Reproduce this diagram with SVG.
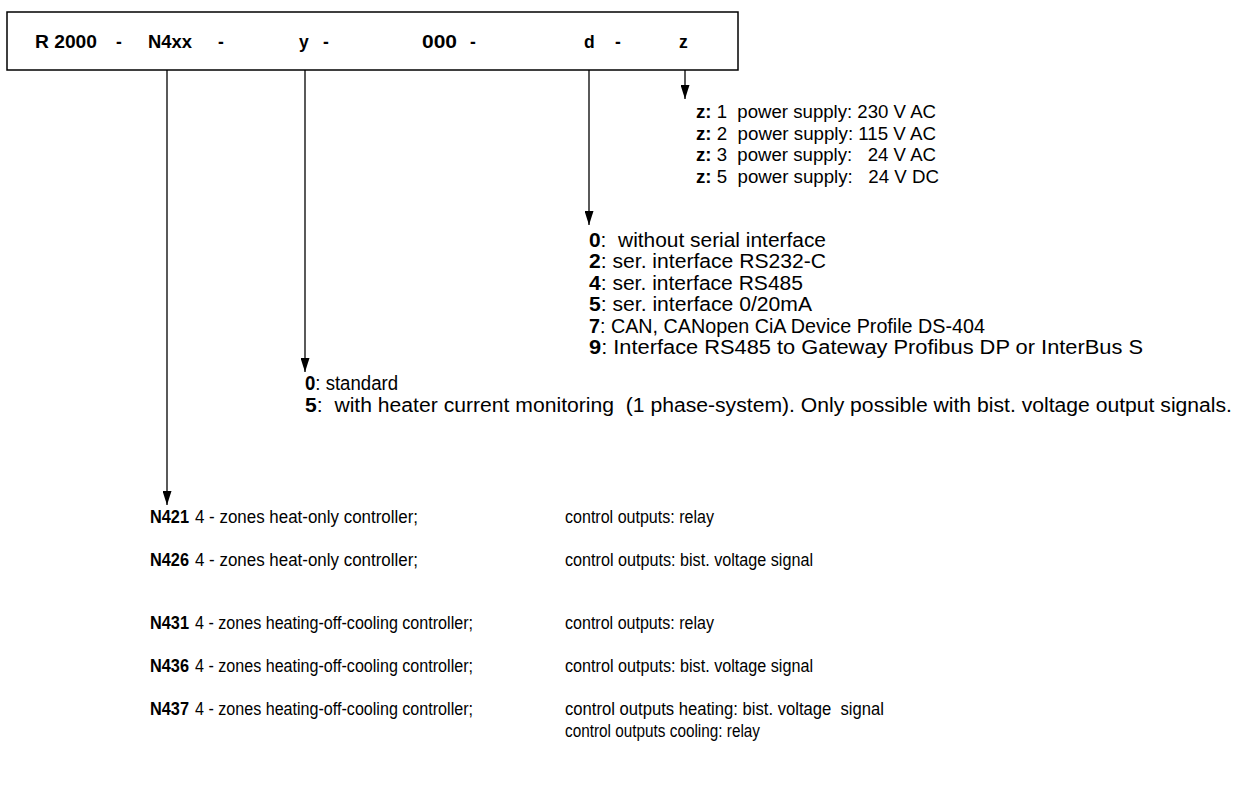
<svg xmlns="http://www.w3.org/2000/svg" width="1244" height="790" viewBox="0 0 1244 790" xml:space="preserve">
<defs>
<style>
text{font-family:"Liberation Sans",Arial,sans-serif;font-size:17.5px;fill:#000;white-space:pre}
.b{font-weight:bold}
.hd{font-size:17.5px;font-weight:bold}
.zt{font-size:18px}
.up{font-size:19.5px}
.ln{stroke:#000;stroke-width:1.3;fill:none}
</style>
<marker id="ah" viewBox="0 0 14 9" refX="14" refY="4.5" markerWidth="14" markerHeight="9" markerUnits="userSpaceOnUse" orient="auto">
<path d="M0,0 L14,4.5 L0,9 Z" fill="#000"/>
</marker>
</defs>
<rect width="1244" height="790" fill="#fff"/>
<g id="code-box">
<rect x="7" y="12" width="731" height="58" fill="#fff" stroke="#000" stroke-width="1.5"/>
<text class="hd" x="35" y="48" textLength="62" lengthAdjust="spacingAndGlyphs">R 2000</text>
<text class="hd" x="116" y="48">-</text>
<text class="hd" x="148" y="48" textLength="44" lengthAdjust="spacingAndGlyphs">N4xx</text>
<text class="hd" x="218" y="48">-</text>
<text class="hd" x="299" y="48">y</text>
<text class="hd" x="323" y="48">-</text>
<text class="hd" x="422" y="48" textLength="35" lengthAdjust="spacingAndGlyphs">000</text>
<text class="hd" x="470" y="48">-</text>
<text class="hd" x="584" y="48">d</text>
<text class="hd" x="615" y="48">-</text>
<text class="hd" x="679" y="48">z</text>
</g>
<g id="connectors">
<line class="ln" x1="167" y1="70" x2="167" y2="505" marker-end="url(#ah)"/>
<line class="ln" x1="305" y1="70" x2="305" y2="372" marker-end="url(#ah)"/>
<line class="ln" x1="589" y1="70" x2="589" y2="225" marker-end="url(#ah)"/>
<line class="ln" x1="685" y1="70" x2="685" y2="99" marker-end="url(#ah)"/>
</g>
<g id="z-options">
<text class="zt" x="696" y="118" textLength="240" lengthAdjust="spacingAndGlyphs"><tspan class="b">z:</tspan> 1  power supply: 230 V AC</text>
<text class="zt" x="696" y="140" textLength="240" lengthAdjust="spacingAndGlyphs"><tspan class="b">z:</tspan> 2  power supply: 115 V AC</text>
<text class="zt" x="696" y="161" textLength="240" lengthAdjust="spacingAndGlyphs"><tspan class="b">z:</tspan> 3  power supply:   24 V AC</text>
<text class="zt" x="696" y="183" textLength="243" lengthAdjust="spacingAndGlyphs"><tspan class="b">z:</tspan> 5  power supply:   24 V DC</text>
</g>
<g id="d-options">
<text class="up" x="589" y="247" textLength="237" lengthAdjust="spacingAndGlyphs"><tspan class="b">0</tspan>:  without serial interface</text>
<text class="up" x="589" y="268" textLength="237" lengthAdjust="spacingAndGlyphs"><tspan class="b">2</tspan>: ser. interface RS232-C</text>
<text class="up" x="589" y="290" textLength="214" lengthAdjust="spacingAndGlyphs"><tspan class="b">4</tspan>: ser. interface RS485</text>
<text class="up" x="589" y="311" textLength="223" lengthAdjust="spacingAndGlyphs"><tspan class="b">5</tspan>: ser. interface 0/20mA</text>
<text class="up" x="589" y="333" textLength="396" lengthAdjust="spacingAndGlyphs"><tspan class="b">7</tspan>: CAN, CANopen CiA Device Profile DS-404</text>
<text class="up" x="589" y="354" textLength="554" lengthAdjust="spacingAndGlyphs"><tspan class="b">9</tspan>: Interface RS485 to Gateway Profibus DP or InterBus S</text>
</g>
<g id="y-options">
<text class="up" x="305" y="390" textLength="93" lengthAdjust="spacingAndGlyphs"><tspan class="b">0</tspan>: standard</text>
<text class="up" x="305" y="412" textLength="927" lengthAdjust="spacingAndGlyphs"><tspan class="b">5</tspan>:  with heater current monitoring  (1 phase-system). Only possible with bist. voltage output signals.</text>
</g>
<g id="n-options">
<text class="b" x="150" y="523" textLength="39" lengthAdjust="spacingAndGlyphs">N421</text>
<text x="195" y="523" textLength="223" lengthAdjust="spacingAndGlyphs">4 - zones heat-only controller;</text>
<text x="565" y="523" textLength="149" lengthAdjust="spacingAndGlyphs">control outputs: relay</text>
<text class="b" x="150" y="566" textLength="39" lengthAdjust="spacingAndGlyphs">N426</text>
<text x="195" y="566" textLength="223" lengthAdjust="spacingAndGlyphs">4 - zones heat-only controller;</text>
<text x="565" y="566" textLength="248" lengthAdjust="spacingAndGlyphs">control outputs: bist. voltage signal</text>
<text class="b" x="150" y="629" textLength="39" lengthAdjust="spacingAndGlyphs">N431</text>
<text x="195" y="629" textLength="278" lengthAdjust="spacingAndGlyphs">4 - zones heating-off-cooling controller;</text>
<text x="565" y="629" textLength="149" lengthAdjust="spacingAndGlyphs">control outputs: relay</text>
<text class="b" x="150" y="672" textLength="39" lengthAdjust="spacingAndGlyphs">N436</text>
<text x="195" y="672" textLength="278" lengthAdjust="spacingAndGlyphs">4 - zones heating-off-cooling controller;</text>
<text x="565" y="672" textLength="248" lengthAdjust="spacingAndGlyphs">control outputs: bist. voltage signal</text>
<text class="b" x="150" y="715" textLength="39" lengthAdjust="spacingAndGlyphs">N437</text>
<text x="195" y="715" textLength="278" lengthAdjust="spacingAndGlyphs">4 - zones heating-off-cooling controller;</text>
<text x="565" y="715" textLength="319" lengthAdjust="spacingAndGlyphs">control outputs heating: bist. voltage  signal</text>
<text x="565" y="737" textLength="195" lengthAdjust="spacingAndGlyphs">control outputs cooling: relay</text>
</g>
</svg>
